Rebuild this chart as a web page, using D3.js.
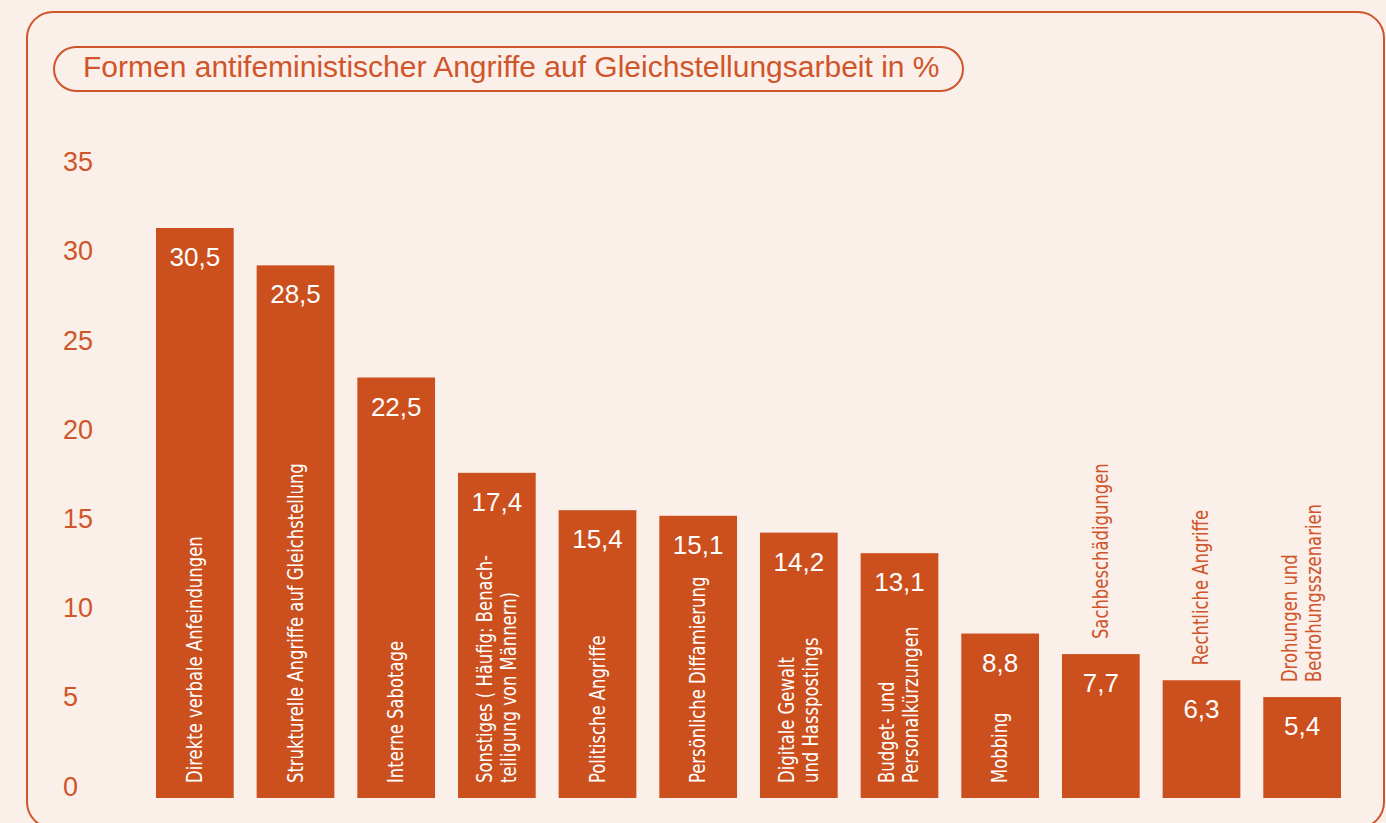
<!DOCTYPE html>
<html>
<head>
<meta charset="utf-8">
<script src="https://cdn.jsdelivr.net/npm/d3@7"></script>
<style>
  html, body { margin: 0; padding: 0; background: #faefe9; }
  svg { display: block; }
</style>
</head>
<body>
<svg id="chart"></svg>
<script>
// data
var categories = [
  ["Direkte verbale Anfeindungen"],
  ["Strukturelle Angriffe auf Gleichstellung"],
  ["Interne Sabotage"],
  ["Sonstiges ( Häufig: Benach-", "teiligung von Männern)"],
  ["Politische Angriffe"],
  ["Persönliche Diffamierung"],
  ["Digitale Gewalt", "und Hasspostings"],
  ["Budget- und", "Personalkürzungen"],
  ["Mobbing"],
  ["Sachbeschädigungen"],
  ["Rechtliche Angriffe"],
  ["Drohungen und", "Bedrohungsszenarien"]
];
var values = [30.5, 28.5, 22.5, 17.4, 15.4, 15.1, 14.2, 13.1, 8.8, 7.7, 6.3, 5.4];
var labelOutside = [false, false, false, false, false, false, false, false, false, true, true, true];
var yTicks = [0, 5, 10, 15, 20, 25, 30, 35];
var title = "Formen antifeministischer Angriffe auf Gleichstellungsarbeit in %";

var width = 1386, height = 823;
var orange = "#cc4f1e", lineCol = "#d0552a", bg = "#faefe9";

var svg = d3.select("#chart")
  .attr("width", width)
  .attr("height", height);

svg.append("rect")
  .attr("width", width).attr("height", height)
  .attr("fill", bg);

// outer frame
svg.append("rect")
  .attr("x", 27).attr("y", 12)
  .attr("width", 1357).attr("height", 816)
  .attr("rx", 26).attr("ry", 26)
  .attr("fill", "none")
  .attr("stroke", lineCol)
  .attr("stroke-width", 2);

// title pill
var pill = svg.append("g");
pill.append("rect")
  .attr("x", 54).attr("y", 47)
  .attr("width", 909).attr("height", 44)
  .attr("rx", 22).attr("ry", 22)
  .attr("fill", "none")
  .attr("stroke", lineCol)
  .attr("stroke-width", 2);

var titleText = pill.append("text")
  .attr("x", 83).attr("y", 77)
  .attr("fill", lineCol)
  .style("font-family", "'Liberation Sans', Arial, sans-serif")
  .style("font-size", "24px")
  .text(title);
// fit title to the pill
var tw = titleText.node().getComputedTextLength();
titleText.style("font-size", (24 * 857 / tw) + "px");

// scales
var x = d3.scaleBand()
  .domain(d3.range(values.length))
  .range([156, 1341])
  .paddingInner(0.228)
  .paddingOuter(0);

var y = d3.scaleLinear()
  .domain([0, 35])
  .range([798, 143.9]);

// tick labels sit on their own grid in the original
var yLab = d3.scaleLinear()
  .domain([0, 35])
  .range([786.5, 162]);

var axis = svg.append("g")
  .attr("transform", "translate(63,0)")
  .call(d3.axisRight(yLab).tickValues(yTicks).tickSize(0).tickPadding(0));
axis.select(".domain").remove();
axis.selectAll("text")
  .attr("fill", lineCol)
  .attr("text-anchor", "start")
  .style("font-family", "'Liberation Sans', Arial, sans-serif")
  .style("font-size", "27px");

// bars
var bars = svg.append("g").selectAll("g.bar")
  .data(values)
  .enter().append("g")
  .attr("class", "bar");

bars.append("rect")
  .attr("x", function(d, i) { return x(i); })
  .attr("y", function(d) { return y(d); })
  .attr("width", x.bandwidth())
  .attr("height", function(d) { return y(0) - y(d); })
  .attr("fill", orange);

bars.append("text")
  .attr("x", function(d, i) { return x(i) + x.bandwidth() / 2; })
  .attr("y", function(d) { return y(d) + 38; })
  .attr("text-anchor", "middle")
  .attr("fill", "#fff")
  .style("font-family", "'Liberation Sans', Arial, sans-serif")
  .style("font-size", "26px")
  .text(function(d) { return String(d).replace(".", ","); });

// category labels, rotated (squeezed a little to look condensed)
var lineH = 24;
bars.append("text")
  .attr("transform", function(d, i) {
    var cx = x(i) + x.bandwidth() / 2;
    var n = categories[i].length;
    var bx = cx + 7 - (n - 1) * lineH / 2;
    var by = labelOutside[i] ? y(d) - 15 : 783;
    return "translate(" + bx + "," + by + ") rotate(-90) scale(0.87,1)";
  })
  .attr("fill", function(d, i) { return labelOutside[i] ? lineCol : "#fff"; })
  .style("font-family", "'DejaVu Sans Condensed', 'DejaVu Sans', sans-serif")
  .style("font-size", "21px")
  .each(function(d, i) {
    var t = d3.select(this);
    categories[i].forEach(function(line, k) {
      t.append("tspan")
        .attr("x", 0)
        .attr("y", k * lineH)
        .text(line);
    });
  });
</script>
</body>
</html>
